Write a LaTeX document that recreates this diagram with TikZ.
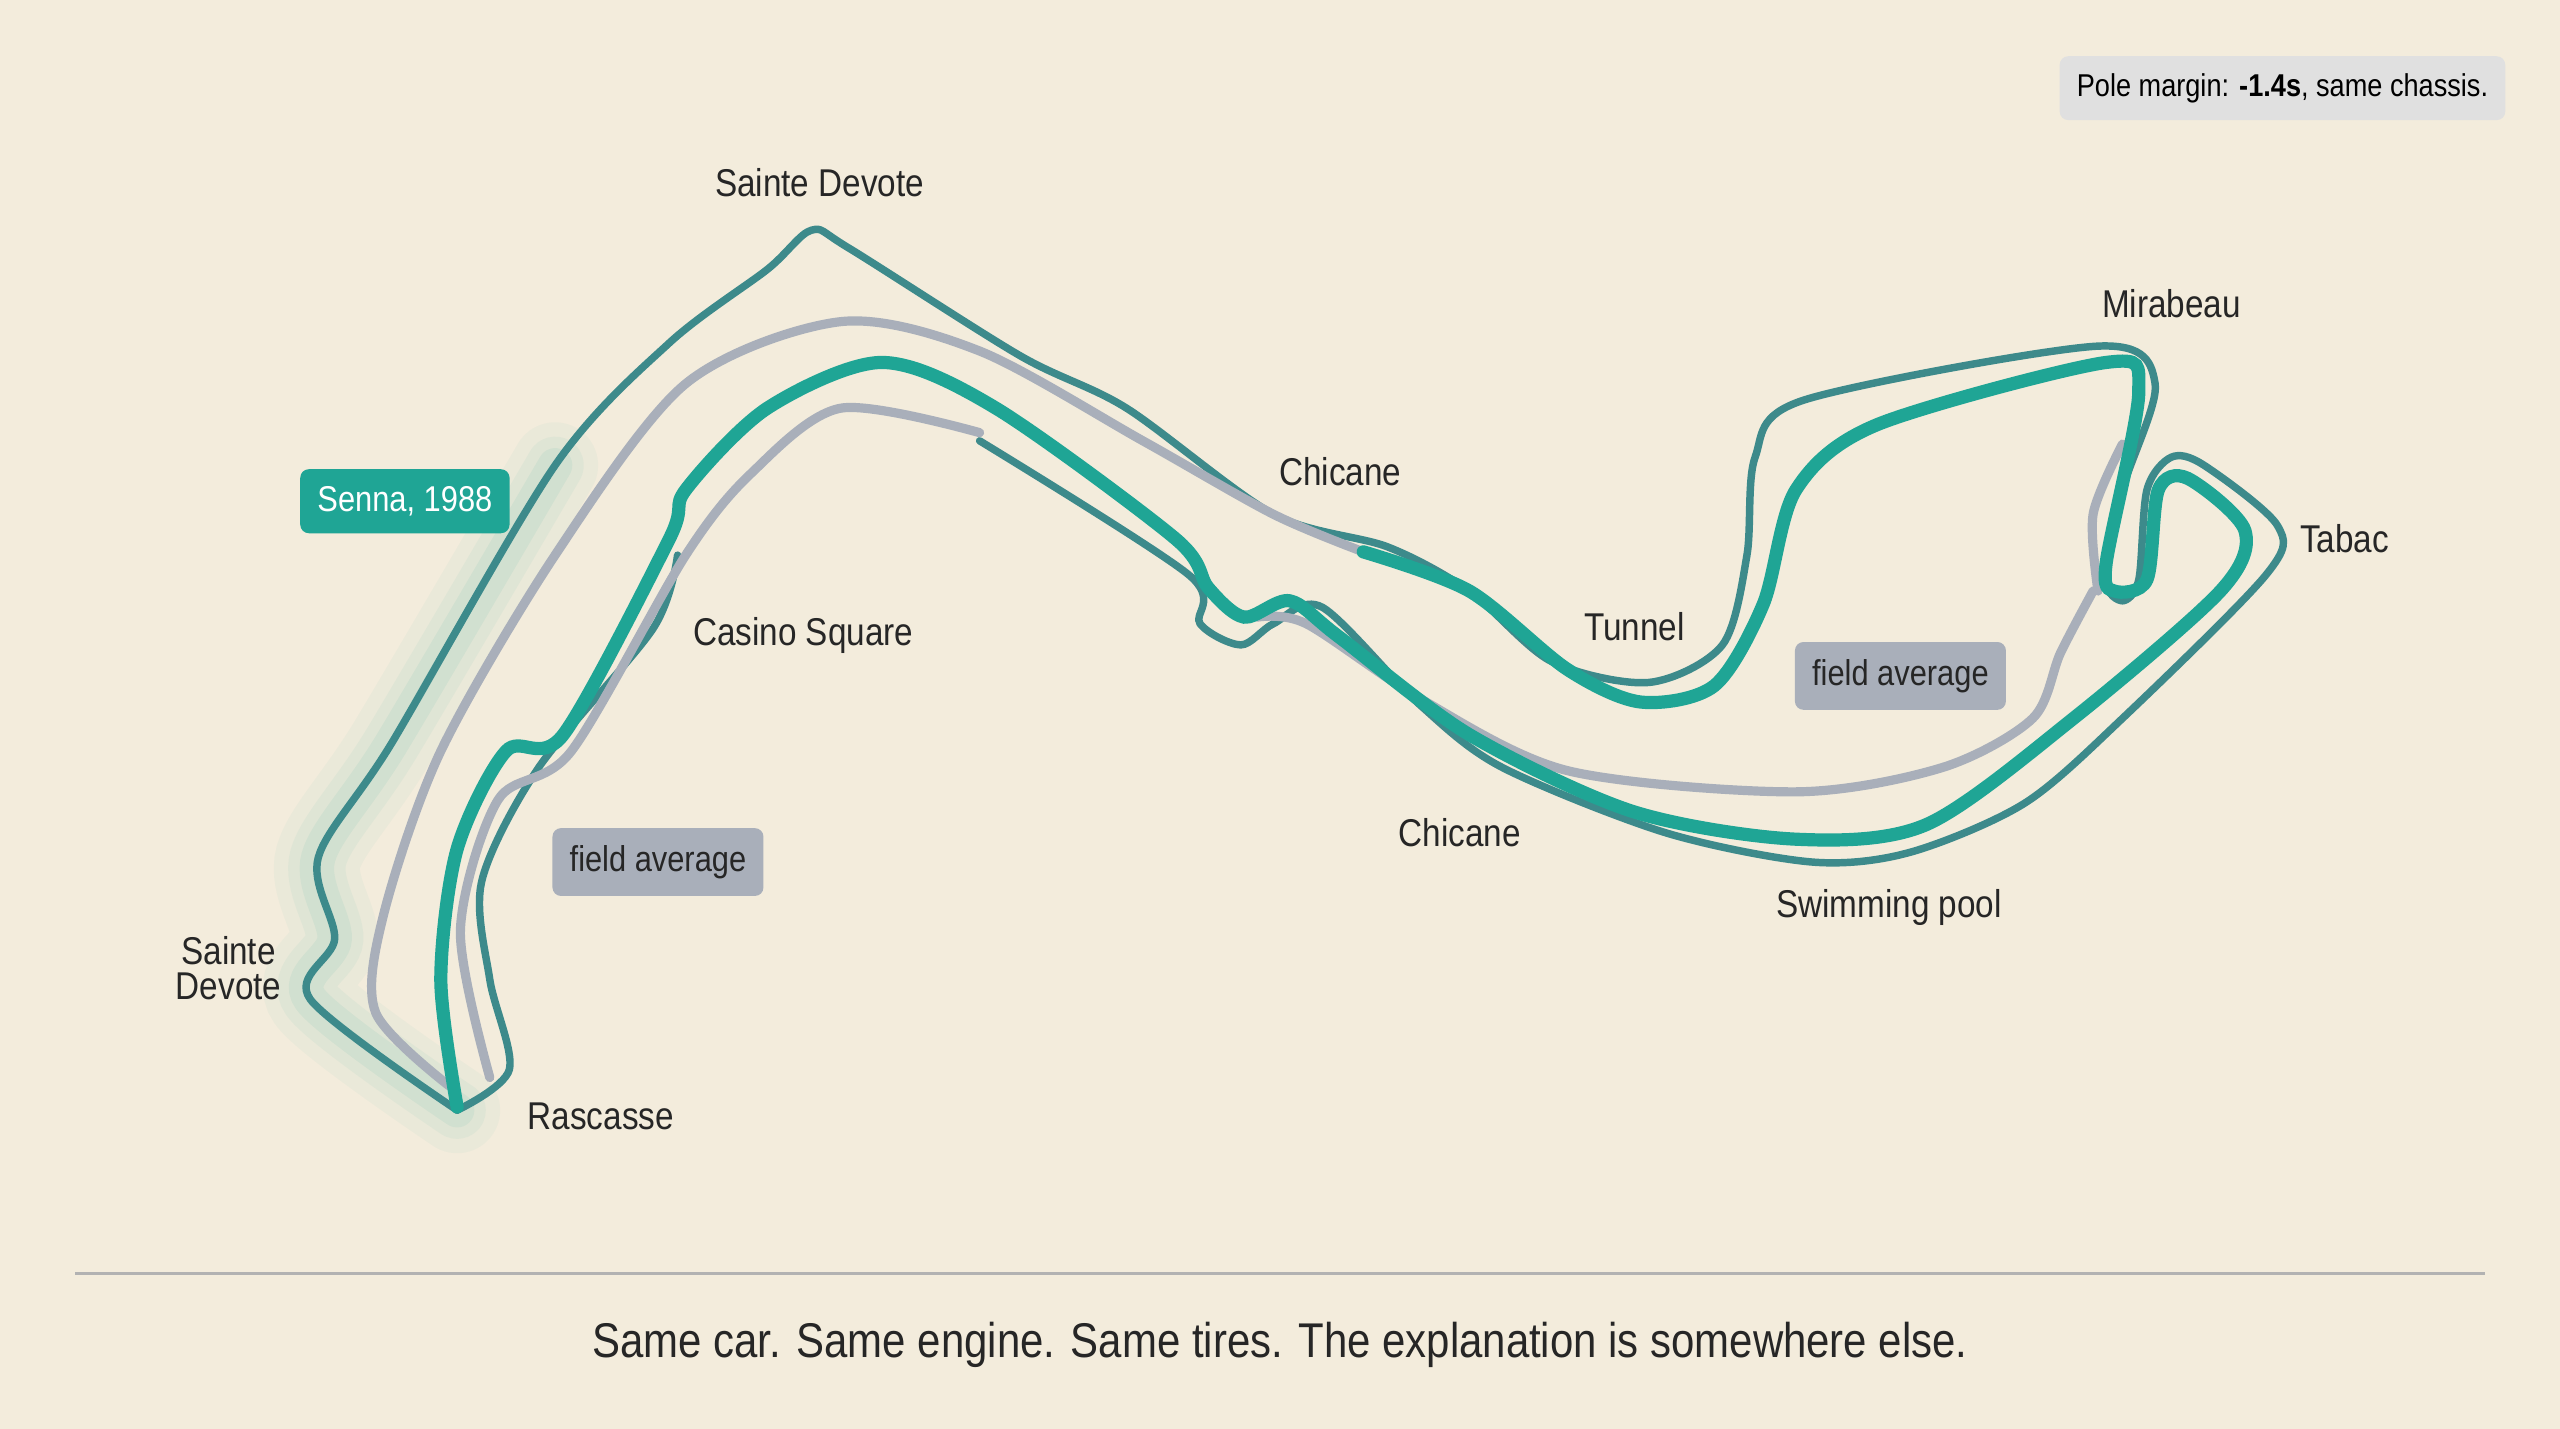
\documentclass[tikz,border=0pt]{standalone}
\usepackage{fontspec}
\setmainfont[FakeStretch=0.86]{Liberation Sans}
\begin{document}
\begin{tikzpicture}[x=0.02cm,y=-0.02cm,
 dk/.style={draw=track,line width=2.6pt,line cap=round,line join=round},
 gr/.style={draw=fieldg,line width=3.2pt,line cap=round},
 sn/.style={draw=senna,line width=4.6pt,line cap=round},
 lbl/.style={font=\fontsize{13.5pt}{15pt}\selectfont,text=black!85},
 tag/.style={font=\fontsize{12.5pt}{14pt}\selectfont,rounded corners=3pt,inner sep=6pt}]
\definecolor{bg}{HTML}{F3ECDC}
\definecolor{track}{HTML}{3D8A8B}
\definecolor{fieldg}{HTML}{A9AFBA}
\definecolor{senna}{HTML}{1FA595}
\fill[bg] (0,0) rectangle (1568,875);
% glow
\foreach \w/\o in {30/0.04,20/0.05,12/0.07}{
\draw[senna,opacity=\o,line width=\w pt,line cap=round] plot[smooth] coordinates{(280,680) (190,612) (205,575) (195,525) (240,455) (340,285)};}
% dark outline
\draw[dk] plot[smooth] coordinates{(280,680) (190,612) (205,575) (195,525) (240,455) (340,285) (410,210) (470,165) (497,141) (520,152) (625,218) (690,250) (780,315) (850,335) (900,362) (950,405) (1010,418) (1055,395) (1070,340) (1075,280) (1105,245) (1285,212) (1320,235) (1300,300) (1290,355) (1300,368) (1310,355) (1315,300) (1330,280) (1350,285) (1395,322) (1388,352) (1300,440) (1240,492) (1170,522) (1110,528) (1020,510) (920,470) (870,432) (810,372) (780,382) (760,395) (735,382) (728,352) (600,270)};
\draw[dk] plot[smooth] coordinates{(280,680) (312,655) (300,600) (295,540) (330,470) (400,385) (415,340)};
% field average
\draw[gr] plot[smooth] coordinates{(275,665) (230,620) (235,560) (270,460) (340,340) (420,235) (515,197) (600,215) (700,270) (780,315) (835,338)};
\draw[gr] plot[smooth] coordinates{(600,265) (515,250) (460,290) (420,340) (350,460) (305,490) (282,570) (300,660)};
\draw[gr] plot[smooth] coordinates{(1285,362) (1282,315) (1300,272)};
\draw[gr] plot[smooth] coordinates{(1282,362) (1262,400) (1245,440) (1190,470) (1100,485) (960,472) (870,428) (800,382) (770,378)};
% Senna
\draw[sn] plot[smooth] coordinates{(280,678) (270,600) (280,520) (310,460) (345,450) (410,330) (420,300) (470,250) (540,222) (610,250) (720,330) (740,360) (762,378) (790,368) (820,390) (900,450) (1000,497) (1100,514) (1180,505) (1270,440) (1360,362) (1375,325) (1340,293) (1322,300) (1315,355) (1295,362) (1290,345) (1310,240) (1290,222) (1150,260) (1100,300) (1080,370) (1050,420) (1005,430) (960,410) (900,362) (835,338)};
% labels
\node[lbl] (sd1) at (502,112) {Sainte Devote};
\node[lbl,align=center] (sd2) at (140,593) {Sainte\\[-3pt]Devote};
\node[lbl] (cs) at (492,389) {Casino Square};
\node[lbl] (ch1) at (821,289) {Chicane};
\node[lbl] (tu) at (1001,384) {Tunnel};
\node[lbl] (mi) at (1330,186) {Mirabeau};
\node[lbl] (ta) at (1436,330) {Tabac};
\node[lbl] (ch2) at (894,510) {Chicane};
\node[lbl] (sp) at (1157,556) {Swimming pool};
\node[lbl] (ra) at (368,684) {Rascasse};
\node[tag,fill=senna,text=white] (sen) at (248,307) {Senna, 1988};
\node[tag,fill=fieldg,text=black!85] (fa1) at (403,528) {field average};
\node[tag,fill=fieldg,text=black!85] (fa2) at (1164,414) {field average};
\node[tag,fill=black!12,font=\fontsize{11pt}{12pt}\selectfont] (pm) at (1398,54) {Pole margin: \textbf{-1.4s}, same chassis.};
\coordinate (l1) at (46,780); \coordinate (l2) at (1522,780);
\draw[black!30,line width=0.8pt] (l1) -- (l2);
\node[font=\fontsize{17pt}{18pt}\selectfont,text=black!85] (cap) at (784,824) {Same car. Same engine. Same tires. The explanation is somewhere else.};
\end{tikzpicture}
\end{document}
